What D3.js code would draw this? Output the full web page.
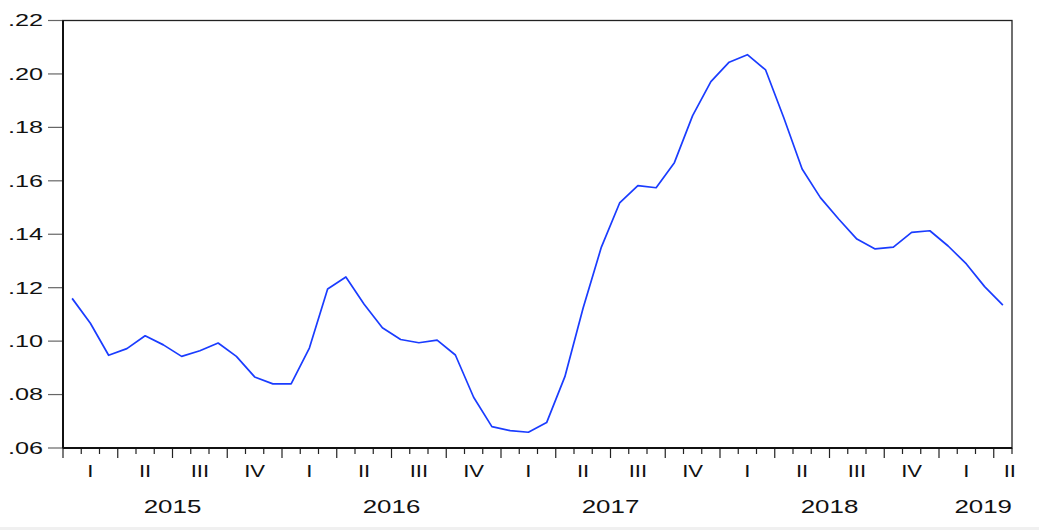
<!DOCTYPE html>
<html>
<head>
<meta charset="utf-8">
<script src="https://cdn.jsdelivr.net/npm/d3@7"></script>
<style>
  html, body { margin: 0; padding: 0; background: #fff; }
  text { font-family: "Liberation Sans", Arial, sans-serif; fill: #111; }
</style>
</head>
<body>
<div id="chart"></div>
<script>
//Datos mensuales, 2015M01 - 2019M04
const START_YEAR = 2015;
const values = [
    .1160, .1067, .0947, .0972, .1020, .0986, .0943, .0964, .0993, .0943, .0866, .0840,
    .0840, .0974, .1195, .1240, .1138, .1050, .1006, .0994, .1004, .0948, .0790, .0680,
    .0665, .0659, .0695, .0867, .1124, .1352, .1517, .1582, .1574, .1668, .1844, .1971,
    .2044, .2072, .2015, .1835, .1644, .1537, .1457, .1382, .1345, .1352, .1407, .1413,
    .1356, .1289, .1204, .1135
];
const yTicks = [.06, .08, .10, .12, .14, .16, .18, .20, .22];
const quarterNames = ['I', 'II', 'III', 'IV'];

//Colores
const COLOR_LINE = '#1a3cff';

let margin = {top: 20.5, right: 27, bottom: 82, left: 63},
    W = 1039, H = 530,
    width = W - margin.left - margin.right,
    height = H - margin.top - margin.bottom;

let svg = d3.select('#chart')
    .append('svg')
    .attr('width', W)
    .attr('height', H);

svg.append('rect').attr('width', W).attr('height', H).attr('fill', '#fff');
svg.append('rect').attr('x', 0).attr('y', 527).attr('width', W).attr('height', 3).attr('fill', '#f0f0f0');

let g = svg.append('g')
    .attr('transform', 'translate(' + margin.left + ',' + margin.top + ')');

let nMonths = values.length;

let x = d3.scaleLinear()
    .domain([0, nMonths])
    .range([0, width]);

let y = d3.scaleLinear()
    .domain([.06, .22])
    .range([height, 0]);

//Eje Y
let fmt = function(d) { return d3.format('.2f')(d).replace(/^0/, ''); };

let yAxis = g.append('g');
yAxis.selectAll('line')
    .data(yTicks)
    .enter()
    .append('line')
    .attr('x1', -15).attr('x2', 0)
    .attr('y1', function(d) { return y(d); })
    .attr('y2', function(d) { return y(d); })
    .attr('stroke', '#666')
    .attr('stroke-width', 1.2);

yAxis.selectAll('text')
    .data(yTicks)
    .enter()
    .append('text')
    .attr('transform', function(d) { return 'translate(-20,' + y(d) + ') scale(1.55,1)'; })
    .attr('text-anchor', 'end')
    .attr('dy', '0.36em')
    .style('font-size', '16.3px')
    .text(fmt);

//Eje X: marcas mensuales
let months = d3.range(nMonths + 1);
g.append('g').selectAll('line')
    .data(months)
    .enter()
    .append('line')
    .attr('x1', function(d) { return x(d); })
    .attr('x2', function(d) { return x(d); })
    .attr('y1', height)
    .attr('y2', function(d) { return height + (d % 3 == 0 ? 10 : 6); })
    .attr('stroke', '#222')
    .attr('stroke-width', 1.2);

//Trimestres
let quarters = [];
for (let m = 0; m < nMonths; m += 3) {
    let end = Math.min(m + 3, nMonths);
    quarters.push({start: m, end: end, q: (m / 3) % 4, partial: end - m < 3});
}

g.append('g').selectAll('text')
    .data(quarters)
    .enter()
    .append('text')
    .attr('transform', function(d) {
        let cx = d.partial ? width + 4 : x((d.start + d.end) / 2);
        return 'translate(' + cx + ',' + (height + 29) + ') scale(1.4,1)';
    })
    .attr('text-anchor', function(d) { return d.partial ? 'end' : 'middle'; })
    .style('font-size', '15.8px')
    .text(function(d) { return quarterNames[d.q]; });

//Años
let years = [];
for (let m = 0; m < nMonths; m += 12) {
    let end = Math.min(m + 12, nMonths);
    years.push({start: m, end: end, year: START_YEAR + m / 12, partial: end - m < 12});
}

g.append('g').selectAll('text')
    .data(years)
    .enter()
    .append('text')
    .attr('transform', function(d) {
        let cx = d.partial ? width : x((d.start + d.end) / 2);
        return 'translate(' + cx + ',' + (height + 65) + ') scale(1.4,1)';
    })
    .attr('text-anchor', function(d) { return d.partial ? 'end' : 'middle'; })
    .style('font-size', '18.5px')
    .text(function(d) { return d.year; });

//Línea
let line = d3.line()
    .x(function(d, i) { return x(i + 0.5); })
    .y(function(d) { return y(d); });

g.append('path')
    .datum(values)
    .attr('d', line)
    .attr('fill', 'none')
    .attr('stroke', COLOR_LINE)
    .attr('stroke-width', 1.7)
    .attr('stroke-linejoin', 'round');

//Marco
g.append('rect')
    .attr('x', 0).attr('y', 0)
    .attr('width', width).attr('height', height)
    .attr('fill', 'none')
    .attr('stroke', '#222')
    .attr('stroke-width', 1.3);

g.append('line')
    .attr('x1', 0).attr('x2', 0).attr('y1', 0).attr('y2', height)
    .attr('stroke', '#111').attr('stroke-width', 2);
g.append('line')
    .attr('x1', 0).attr('x2', width).attr('y1', height).attr('y2', height)
    .attr('stroke', '#111').attr('stroke-width', 2);
</script>
</body>
</html>
